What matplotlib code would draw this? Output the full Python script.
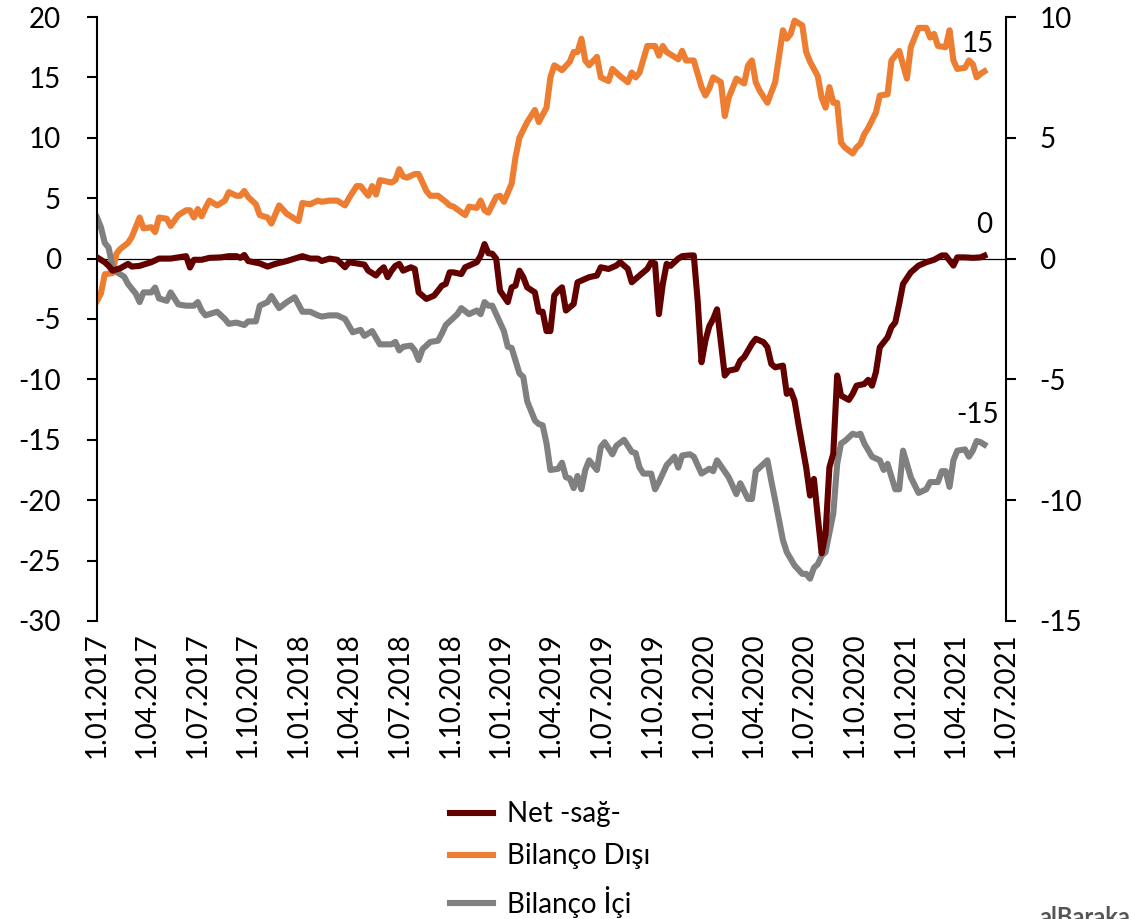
import numpy as np
import pandas as pd
import matplotlib
matplotlib.use("Agg")
import matplotlib.pyplot as plt
import matplotlib.dates as mdates
from matplotlib.ticker import FuncFormatter

plt.rcParams["font.family"] = ["Lato", "DejaVu Sans"]
plt.rcParams["axes.unicode_minus"] = False

start = pd.Timestamp("2017-01-01")

## Bilanço Dışı (left axis), weeks since 1.01.2017
dis_wk = [0, 1, 2, 4, 5, 6, 8, 9, 11, 12, 14, 15, 16, 18, 19, 21, 23, 24, 25, 26, 27, 28, 29, 31, 33, 34,
          36, 37, 38, 39, 41, 42, 44, 45, 47, 49, 52, 53, 55, 57, 58, 60, 62, 64, 65, 67, 68, 70, 71, 72,
          73, 76, 77, 78, 79, 80, 82, 83, 85, 86, 88, 90, 91, 92, 95, 96, 98, 99, 100, 101, 103, 104, 105,
          107, 108, 109, 111, 113, 114, 116, 117, 118, 120, 122, 123, 124, 125, 126, 127, 129, 130, 132,
          133, 135, 137, 138, 139, 140, 142, 144, 145, 146, 147, 150, 151, 152, 154, 156, 157, 158, 159,
          161, 162, 163, 165, 167, 168, 169, 170, 171, 173, 175, 177, 178, 179, 180, 182, 183, 184, 186,
          187, 188, 189, 190, 191, 192, 193, 195, 196, 197, 198, 199, 201, 202, 204, 205, 207, 209, 210,
          211, 212, 214, 215, 216, 217, 219, 220, 221, 222, 224, 225, 226, 227, 228, 229]
dis_val = [-3.5, -2.9, -1.3, -1.2, 0.4, 0.8, 1.3, 1.8, 3.4, 2.5, 2.6, 2.2, 3.4, 3.3, 2.7, 3.6, 4.0, 4.0, 3.4,
           4.1, 3.5, 4.2, 4.8, 4.4, 4.8, 5.5, 5.2, 5.2, 5.6, 5.1, 4.5, 3.6, 3.4, 2.9, 4.4, 3.7, 3.1, 4.6,
           4.5, 4.8, 4.7, 4.8, 4.8, 4.4, 5.0, 6.0, 6.0, 5.2, 6.0, 5.3, 6.5, 6.3, 6.5, 7.4, 6.8, 6.7, 7.0,
           7.0, 5.6, 5.2, 5.2, 4.7, 4.4, 4.3, 3.6, 4.3, 4.2, 4.8, 4.0, 3.8, 5.1, 5.2, 4.7, 6.2, 8.4, 10.0,
           11.3, 12.3, 11.3, 12.5, 15.0, 16.0, 15.6, 16.3, 17.1, 17.1, 18.2, 16.4, 16.0, 16.7, 15.0, 14.7,
           15.7, 15.1, 14.6, 15.4, 15.0, 15.4, 17.6, 17.6, 16.8, 17.6, 17.1, 16.5, 17.2, 16.4, 16.4, 14.2,
           13.5, 14.1, 15.0, 14.6, 11.8, 13.3, 14.9, 14.5, 16.0, 16.4, 14.6, 13.9, 12.9, 14.6, 18.9, 18.2,
           18.6, 19.7, 19.3, 17.1, 16.3, 15.1, 13.3, 12.5, 14.2, 12.9, 12.9, 9.6, 9.2, 8.7, 9.2, 9.5, 10.3,
           10.8, 12.1, 13.5, 13.6, 16.4, 17.2, 14.9, 17.5, 18.3, 19.1, 19.1, 18.3, 18.6, 17.6, 17.5, 18.9,
           16.4, 15.7, 15.8, 16.4, 16.1, 15.0, 15.3, 15.5]

## Bilanço İçi (left axis)
ici_wk = [0, 1, 2, 3, 4, 5, 7, 8, 10, 11, 12, 14, 15, 16, 18, 19, 21, 23, 25, 26, 27, 28, 31, 33, 34, 36, 38,
          39, 41, 42, 44, 45, 47, 49, 51, 53, 55, 57, 58, 60, 62, 64, 66, 68, 69, 71, 73, 76, 77, 78, 79,
          81, 82, 83, 84, 86, 88, 89, 90, 92, 93, 94, 96, 98, 99, 100, 101, 102, 104, 105, 106, 107, 109,
          110, 111, 113, 114, 115, 116, 117, 119, 120, 121, 122, 123, 124, 125, 126, 127, 129, 130, 131,
          133, 134, 136, 138, 139, 140, 141, 143, 144, 145, 147, 149, 150, 151, 153, 154, 156, 158, 159,
          160, 163, 165, 166, 168, 169, 170, 173, 174, 175, 177, 178, 180, 182, 183, 184, 185, 186, 187,
          188, 190, 191, 192, 193, 195, 196, 197, 198, 200, 202, 203, 204, 206, 207, 208, 210, 212, 214,
          215, 217, 218, 219, 220, 221, 222, 224, 225, 226, 227, 228, 229]
ici_val = [3.4, 2.6, 1.3, 0.9, -0.7, -1.1, -1.5, -2.1, -2.9, -3.6, -2.8, -2.8, -2.4, -3.3, -3.5, -2.8, -3.8,
           -3.9, -3.9, -3.6, -4.3, -4.7, -4.4, -5.0, -5.4, -5.3, -5.5, -5.2, -5.2, -3.9, -3.6, -3.1, -4.1,
           -3.6, -3.2, -4.4, -4.4, -4.7, -4.8, -4.7, -4.7, -5.0, -6.1, -5.9, -6.4, -6.0, -7.1, -7.1, -6.9,
           -7.6, -7.3, -7.2, -7.6, -8.4, -7.5, -6.9, -6.8, -6.2, -5.5, -4.9, -4.6, -4.1, -4.6, -4.3, -4.6,
           -3.6, -3.9, -3.9, -5.3, -6.0, -7.3, -7.4, -9.5, -9.8, -11.8, -13.4, -13.7, -13.8, -15.3, -17.5,
           -17.4, -16.9, -18.1, -18.2, -19.0, -18.0, -19.1, -17.5, -16.7, -17.5, -15.6, -15.2, -16.2, -15.5,
           -15.0, -16.0, -16.1, -17.3, -17.8, -17.8, -19.1, -18.5, -17.1, -16.4, -17.3, -16.3, -16.2, -16.4,
           -17.8, -17.4, -17.6, -16.7, -18.1, -19.5, -18.6, -19.9, -19.9, -17.6, -16.7, -18.4, -20.0, -23.3,
           -24.3, -25.4, -26.1, -26.1, -26.5, -25.6, -25.3, -24.6, -24.3, -21.1, -17.0, -15.3, -15.1, -14.5,
           -14.6, -14.5, -15.3, -16.4, -16.7, -17.5, -17.0, -19.1, -19.1, -15.9, -18.1, -19.4, -19.1, -18.5,
           -18.5, -17.6, -17.6, -18.9, -16.7, -15.9, -15.8, -16.4, -15.9, -15.1, -15.2, -15.4]

## Net (right axis)
net_wk = [0, 2, 3, 4, 6, 8, 9, 11, 13, 14, 16, 19, 21, 23, 24, 25, 27, 29, 32, 34, 36, 37, 38, 39, 42, 44,
          46, 49, 51, 53, 55, 57, 58, 60, 62, 64, 65, 67, 69, 70, 72, 73, 74, 75, 76, 77, 78, 79, 81, 82,
          83, 85, 87, 89, 90, 91, 92, 94, 95, 98, 99, 100, 101, 102, 103, 104, 106, 107, 108, 109, 110,
          111, 113, 114, 115, 116, 117, 118, 119, 120, 121, 123, 124, 125, 127, 129, 130, 132, 134, 135,
          137, 138, 140, 142, 143, 144, 145, 146, 147, 148, 150, 151, 153, 154, 155, 156, 157, 158, 159,
          160, 162, 163, 165, 166, 167, 169, 170, 172, 173, 174, 175, 177, 178, 179, 180, 181, 183, 184,
          185, 186, 187, 188, 189, 190, 191, 192, 194, 195, 196, 198, 199, 200, 201, 202, 204, 205, 206,
          207, 208, 210, 212, 214, 216, 218, 219, 221, 222, 224, 226, 228, 229]
net_val = [0.05, -0.15, -0.3, -0.5, -0.4, -0.22, -0.33, -0.3, -0.2, -0.15, 0.0, 0.0, 0.05, 0.1, -0.37,
           -0.05, -0.05, 0.03, 0.05, 0.1, 0.1, 0.03, 0.15, -0.1, -0.2, -0.33, -0.22, -0.1, 0.0, 0.1, 0.0,
           0.0, -0.1, 0.0, -0.05, -0.36, -0.15, -0.2, -0.25, -0.5, -0.7, -0.5, -0.36, -0.77, -0.5, -0.3,
           -0.22, -0.5, -0.36, -0.43, -1.4, -1.67, -1.53, -1.12, -1.05, -0.57, -0.57, -0.64, -0.36, -0.15,
           0.12, 0.6, 0.22, 0.2, 0.0, -1.33, -1.8, -1.19, -1.12, -0.5, -0.77, -1.19, -1.4, -2.2, -2.2, -3.0,
           -3.0, -1.53, -1.33, -1.19, -2.15, -1.88, -0.98, -0.91, -0.77, -0.7, -0.36, -0.43, -0.29, -0.15,
           -0.43, -0.98, -0.7, -0.43, -0.15, -0.2, -2.3, -1.05, -0.22, -0.3, 0.0, 0.1, 0.13, 0.13, -1.74,
           -4.29, -3.4, -2.8, -2.5, -2.1, -4.84, -4.64, -4.57, -4.22, -4.08, -3.53, -3.32, -3.46, -3.67,
           -4.36, -4.5, -4.43, -5.6, -5.46, -5.88, -6.84, -8.64, -9.81, -9.12, -10.7, -12.2, -11.4, -8.64,
           -8.08, -4.84, -5.67, -5.85, -5.6, -5.26, -5.19, -5.02, -5.26, -4.7, -3.67, -3.26, -2.84, -2.64,
           -1.88, -1.05, -0.57, -0.29, -0.15, -0.05, 0.13, 0.13, -0.29, 0.05, 0.05, 0.03, 0.05, 0.12]

end_labels = ["15", "0", "-15"]

net_color = "#620000"
dis_color = "#ED7D31"
ici_color = "#808080"
fsize = 20


def to_dates(weeks):
    return start + pd.to_timedelta(np.array(weeks) * 7, unit="D")


fig = plt.figure(figsize=(11.32, 9.19), dpi=100)
ax = fig.add_axes([0.0857, 0.3243, 0.8030, 0.6572])
ax2 = ax.twinx()

l_dis, = ax.plot(to_dates(dis_wk), dis_val, color=dis_color, lw=4.4, solid_joinstyle="round")
l_ici, = ax.plot(to_dates(ici_wk), ici_val, color=ici_color, lw=4.4, solid_joinstyle="round")
ax.axhline(0, color="black", lw=0.9, zorder=1)
l_net, = ax2.plot(to_dates(net_wk), net_val, color=net_color, lw=4.4, solid_joinstyle="round")

ax.set_xlim(pd.Timestamp("2017-01-01"), pd.Timestamp("2021-07-01"))
ax.set_ylim(-30, 20)
ax2.set_ylim(-15, 10)
ax.set_yticks(np.arange(-30, 21, 5))
ax2.set_yticks(np.arange(-15, 11, 5))

ax.xaxis.set_major_locator(mdates.MonthLocator(bymonth=[1, 4, 7, 10], bymonthday=1))
ax.xaxis.set_major_formatter(FuncFormatter(
    lambda v, pos: "{}.{:02d}.{}".format(mdates.num2date(v).day, mdates.num2date(v).month, mdates.num2date(v).year)))
ax.tick_params(axis="x", length=0, pad=8, labelsize=fsize, labelrotation=90)
ax.tick_params(axis="y", direction="out", length=7, width=1.5, pad=19, labelsize=fsize)
ax2.tick_params(axis="y", direction="out", length=7, width=1.5, pad=17, labelsize=fsize)

for a in (ax, ax2):
    a.spines["top"].set_visible(False)
    a.spines["bottom"].set_visible(False)
    a.spines["left"].set_linewidth(1.5)
    a.spines["right"].set_linewidth(1.5)
ax2.spines["left"].set_visible(False)
ax.spines["right"].set_visible(False)

# data labels at the last point
ax.annotate(end_labels[0], (to_dates(dis_wk)[-1], dis_val[-1]), xytext=(-5, 20),
            textcoords="offset points", ha="center", va="center", fontsize=fsize)
ax2.annotate(end_labels[1], (to_dates(net_wk)[-1], net_val[-1]), xytext=(0, 22),
             textcoords="offset points", ha="center", va="center", fontsize=fsize)
ax.annotate(end_labels[2], (to_dates(ici_wk)[-1], ici_val[-1]), xytext=(-5, 21),
            textcoords="offset points", ha="center", va="center", fontsize=fsize)

fig.legend([l_net, l_dis, l_ici], ["Net -sağ-", "Bilanço Dışı", "Bilanço İçi"],
           loc="upper left", bbox_to_anchor=(0.3975, 0.128), frameon=False, fontsize=fsize,
           handlelength=1.55, handletextpad=0.5, labelspacing=0.58, borderpad=0, borderaxespad=0)

# logo text, cut by the lower edge as in the source
fig.text(0.918, 0.014, "alBaraka", fontsize=17, color="#555555", fontweight="bold", va="top")

plt.savefig("out.png", dpi=100)
